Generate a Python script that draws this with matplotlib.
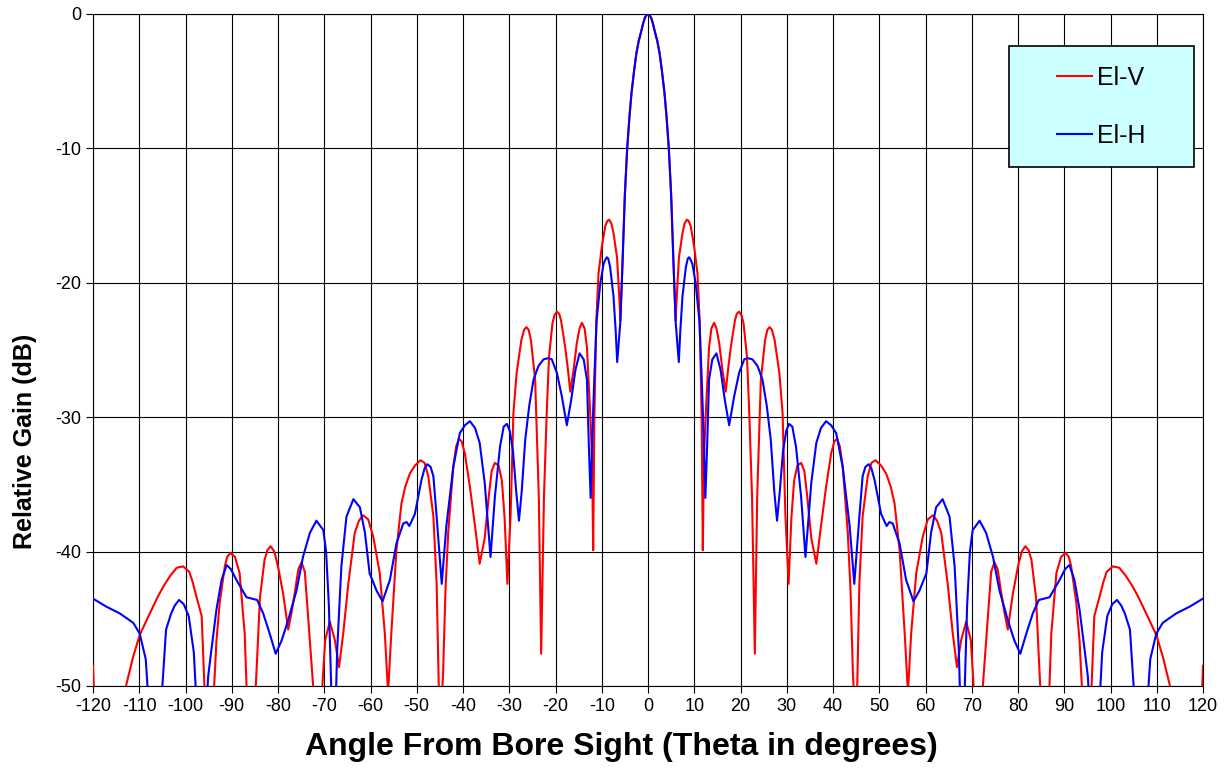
import matplotlib
matplotlib.use("Agg")
import matplotlib.pyplot as plt
import matplotlib.patches as mpatches
import numpy as np

plt.rcParams['font.family'] = ['Liberation Sans', 'DejaVu Sans']
plt.rcParams['axes.unicode_minus'] = False

# Measured cuts, one side of bore sight as (theta deg, gain dB); the pattern is symmetric
el_v_half = [
    (0, 0), (0.35, -0.08), (0.7, -0.3), (1.05, -0.7), (1.4, -1.2), (2.0, -2.0), (2.5, -2.9),
    (3.0, -4.2), (3.57, -5.9),
    (4.0, -7.6), (4.5, -10), (5.0, -13.3), (5.5, -18.3), (5.95, -22.8), (6.3, -20.5),
    (6.7, -18.1), (7.46, -16.3), (7.9, -15.6), (8.4, -15.3), (8.8, -15.4), (9.25, -15.8),
    (9.98, -17.3), (10.7, -19.3),
    (11.2, -23.0), (11.6, -30.0), (11.85, -39.9), (12.1, -33.0), (12.5, -29.7), (13.2, -24.8),
    (13.7, -23.4), (14.3, -22.97), (14.8, -23.4), (15.4, -24.5), (16.1, -26.5), (16.8, -28.1),
    (17.3, -26.5), (17.9, -24.8), (18.8, -22.8), (19.2, -22.3), (19.7, -22.15), (20.2, -22.4),
    (20.65, -23.0), (21.4, -25.5),
    (21.9, -29.7), (22.5, -36.0), (23.1, -47.6), (23.6, -36.0), (24.4, -27.2), (25.3, -24.3),
    (25.8, -23.5), (26.3, -23.3), (26.8, -23.5), (27.4, -24.3), (28.4, -26.7), (29.1, -29.7),
    (29.7, -37.2), (30.4, -42.4),
    (31.0, -37.5), (31.6, -34.7), (32.3, -33.6), (33.1, -33.4), (33.8, -34.0), (34.4, -35.8),
    (35.3, -39.0), (36.4, -40.9), (37.4, -38.1), (38.5, -35.2), (39.6, -32.7), (40.3, -31.8),
    (40.9, -31.6), (41.5, -32.2),
    (42.1, -33.7), (43.2, -38.6), (43.8, -43.0), (44.3, -49.0), (45.0, -54.0), (45.7, -42.4),
    (46.4, -37.4), (47.5, -34.4), (48.3, -33.4), (49.2, -33.2), (50.4, -33.6), (51.5, -34.2),
    (52.5, -35.2), (53.3, -36.4), (54.4, -39.9), (55.5, -46.1), (56.2, -50.5), (56.9, -46.1),
    (58.0, -41.6), (59.4, -38.9), (60.5, -37.6), (61.6, -37.3), (62.5, -37.7), (63.4, -38.6),
    (64.8, -42.4), (65.9, -46.1), (66.8, -48.6), (67.7, -46.6), (68.8, -45.2), (69.8, -46.6),
    (70.4, -50.0), (71.5, -56.0), (72.4, -50.0), (73.5, -44.8), (74.2, -41.5), (74.9, -40.8),
    (75.6, -41.3), (76.3, -42.9), (77.1, -44.6), (77.8, -45.8), (78.9, -43.1), (80.0, -41.1),
    (80.8, -40.0), (81.6, -39.6), (82.3, -39.9), (82.9, -40.6), (83.9, -43.4), (84.6, -48.6),
    (86.0, -58.0), (87.2, -46.1), (88.3, -41.6), (89.3, -40.4), (90.3, -40.1), (91.0, -40.4),
    (91.5, -41.1), (92.6, -43.8), (93.3, -46.6), (95.0, -58.0), (96.5, -44.8), (97.6, -43.4),
    (98.5, -42.2), (99.2, -41.5), (100.5, -41.1), (101.9, -41.2), (103.3, -41.8), (104.8, -42.6),
    (106.2, -43.5), (107.7, -44.6), (109.9, -46.2), (111.3, -47.8), (112.8, -49.9), (116.0, -56.0),
    (119.5, -53.0), (120.0, -48.5),
]
el_h_half = [
    (0, 0), (0.35, -0.08), (0.7, -0.3), (1.05, -0.7), (1.4, -1.2), (2.0, -2.0), (2.5, -2.9),
    (3.0, -4.2), (3.57, -5.9),
    (4.0, -7.6), (4.5, -10), (5.0, -13.5), (5.5, -18.5), (6.0, -23.0), (6.66, -25.9),
    (7.0, -23.5), (7.46, -21.0), (8.2, -18.8), (8.6, -18.2), (8.9, -18.1), (9.25, -18.3),
    (9.6, -18.6), (10.3, -20.0),
    (11.1, -22.8), (11.6, -27.0), (12.0, -31.0), (12.4, -36.0), (12.8, -32.0), (13.2, -27.2),
    (13.9, -25.7), (14.8, -25.25), (15.7, -26.5), (16.6, -28.7), (17.55, -30.6), (18.6, -28.5),
    (19.7, -26.7), (20.8, -25.7), (21.5, -25.6), (22.6, -25.7), (23.7, -26.2), (24.75, -27.2),
    (25.7, -29.2), (26.55, -31.7), (27.3, -35.5), (27.9, -37.7), (28.5, -35.5), (29.2, -32.5),
    (29.9, -31.0), (30.5, -30.5), (31.2, -30.7), (32.0, -32.2), (33.1, -35.9), (34.05, -40.4),
    (35.3, -34.9), (36.4, -31.9), (37.4, -30.8), (38.5, -30.3), (39.6, -30.6), (40.7, -31.2),
    (42.1, -33.7), (43.6, -38.1), (44.6, -42.4), (45.7, -37.4), (46.4, -34.4), (47.0, -33.7),
    (47.7, -33.5), (48.3, -33.8),
    (49.0, -34.7), (50.4, -37.2), (51.6, -38.1), (52.2, -37.8), (52.9, -37.9), (54.4, -39.4),
    (55.8, -42.1), (57.4, -43.7), (58.7, -42.9), (60.2, -41.6), (61.2, -38.6), (62.3, -36.7),
    (63.7, -36.1), (65.2, -37.4), (66.3, -41.1), (67.2, -47.3), (67.9, -56.0), (68.5, -50.0),
    (69.0, -44.0), (69.6, -40.0), (70.2, -38.4), (71.7, -37.7), (73.1, -38.6), (74.6, -40.4),
    (76.0, -42.9), (77.8, -45.1), (79.2, -46.6), (80.5, -47.6), (81.8, -46.1), (83.2, -44.6),
    (84.5, -43.6), (86.8, -43.4), (89.0, -42.1), (90.2, -41.3), (91.1, -41.0), (92.2, -42.1),
    (93.3, -44.3), (94.4, -47.3), (95.1, -49.3), (96.6, -58.0), (98.2, -47.5), (99.3, -44.8),
    (100.4, -43.9), (101.4, -43.6), (102.3, -44.0), (103.1, -44.6), (104.2, -45.8), (105.0, -50.0),
    (106.7, -58.0), (108.6, -48.0), (109.9, -46.1), (111.3, -45.3), (114.2, -44.6), (117.1, -44.1),
    (120.0, -43.5),
]
series_labels = ['El-V', 'El-H']
series_colors = ['#FF0000', '#0000FF']

x_ticks = list(range(-120, 121, 10))
y_ticks = list(range(-50, 1, 10))


def full_pattern(half):
    """Mirror a one-sided cut about bore sight."""
    t = np.array([p[0] for p in half])
    g = np.array([p[1] for p in half])
    return np.concatenate([-t[::-1], t[1:]]), np.concatenate([g[::-1], g[1:]])


fig = plt.figure(figsize=(12.26, 7.69), dpi=100)
ax = fig.add_axes([93 / 1226, 1 - 686 / 769, 1110 / 1226, 672 / 769])

handles = []
for half, lab, col in zip([el_v_half, el_h_half], series_labels, series_colors):
    x, y = full_pattern(half)
    line, = ax.plot(x, y, color=col, lw=1.5, label=lab, zorder=3,
                    solid_joinstyle='round')
    handles.append(line)

ax.set_xlim(-120, 120)
ax.set_ylim(-50, 0)
ax.set_xticks(x_ticks)
ax.set_yticks(y_ticks)
ax.tick_params(axis='both', direction='out', length=5, width=0.8, labelsize=13, colors='black')
ax.grid(True, color='black', lw=0.8)
for s in ax.spines.values():
    s.set_color('black')
    s.set_linewidth(0.8)

ax.set_xlabel("Angle From Bore Sight (Theta in degrees)", fontsize=23, fontweight='bold')
ax.xaxis.set_label_coords(0.4757, -0.068)
ax.set_ylabel("Relative Gain (dB)", fontsize=18, fontweight='bold')
ax.yaxis.set_label_coords(-0.05, 0.3646)

# legend box
box = mpatches.Rectangle((0.825, 0.772), 0.167, 0.180, transform=ax.transAxes,
                         facecolor='#CCFFFF', edgecolor='black', lw=1.2, zorder=4)
ax.add_patch(box)
leg = ax.legend(handles=handles, loc='center', bbox_to_anchor=(0.9085, 0.862), frameon=False,
                fontsize=18, handlelength=1.4, handletextpad=0.2, labelspacing=1.35)
leg.set_zorder(5)

fig.savefig("out.png", dpi=100)
